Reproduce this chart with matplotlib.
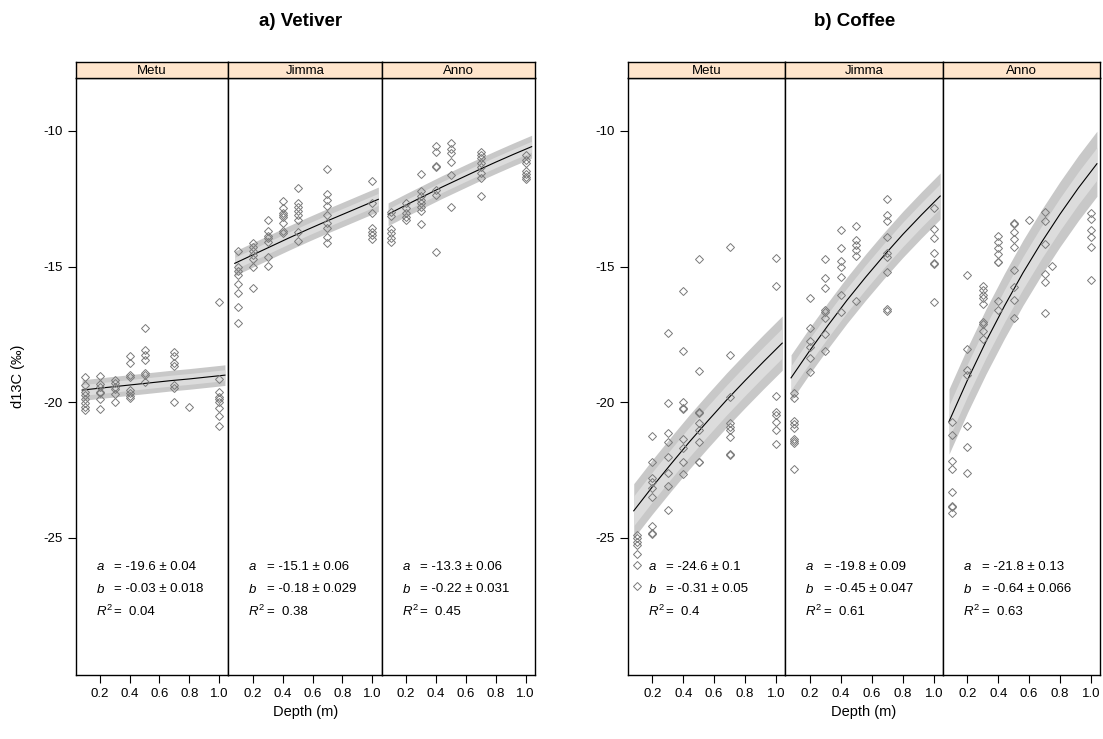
import matplotlib
matplotlib.use("Agg")
import matplotlib.pyplot as plt
import numpy as np

plt.rcParams['font.family'] = ['Liberation Sans', 'DejaVu Sans']
plt.rcParams['mathtext.fontset'] = 'custom'
plt.rcParams['mathtext.rm'] = 'Liberation Sans'
plt.rcParams['mathtext.it'] = 'Liberation Sans:italic'

sites = ["Metu", "Jimma", "Anno"]
tick_depths = [0.2, 0.4, 0.6, 0.8, 1.0]
tick_labels = ["0.2", "0.4", "0.6", "0.8", "1.0"]
y_ticks = [-10, -15, -20, -25]

# observed d13C, grouped by depth (m)
vet_metu = {0.1: [-19.08, -19.36, -19.61, -19.73, -19.89, -20.04, -20.16, -20.28],
            0.2: [-19.02, -19.33, -19.45, -19.61, -19.67, -19.88, -20.24],
            0.3: [-19.18, -19.30, -19.43, -19.52, -19.70, -20.00],
            0.4: [-18.28, -18.56, -18.99, -19.06, -19.55, -19.67, -19.77, -19.86],
            0.5: [-17.27, -18.07, -18.25, -18.44, -18.93, -18.99, -19.24],
            0.7: [-18.13, -18.29, -18.56, -18.66, -19.36, -19.48, -20.00],
            0.8: [-20.19],
            1.0: [-16.29, -19.15, -19.61, -19.79, -19.89, -19.98, -20.22, -20.51, -20.86]}
vet_jimma = {0.1: [-14.41, -15.00, -15.15, -15.31, -15.63, -15.98, -16.50, -17.08],
             0.2: [-14.12, -14.26, -14.41, -14.57, -14.72, -15.01, -15.79],
             0.3: [-13.29, -13.67, -13.86, -13.96, -14.08, -14.66, -14.96],
             0.4: [-12.58, -12.83, -13.01, -13.10, -13.16, -13.39, -13.67, -13.77],
             0.5: [-12.09, -12.64, -12.79, -12.94, -13.10, -13.28, -13.72, -14.05],
             0.7: [-11.39, -12.32, -12.54, -12.76, -13.10, -13.38, -13.59, -13.92, -14.12],
             1.0: [-11.85, -12.64, -13.03, -13.56, -13.71, -13.83, -13.98]}
vet_anno = {0.1: [-12.97, -13.13, -13.62, -13.77, -13.93, -14.08],
            0.2: [-12.67, -12.85, -13.03, -13.16, -13.28],
            0.3: [-11.58, -12.20, -12.40, -12.54, -12.67, -12.79, -12.94, -13.42],
            0.4: [-10.54, -10.76, -11.29, -11.34, -12.17, -12.36, -14.46],
            0.5: [-10.45, -10.68, -10.82, -11.15, -11.62, -12.79],
            0.7: [-10.76, -10.88, -11.01, -11.19, -11.34, -11.56, -11.74, -12.40],
            1.0: [-10.88, -11.07, -11.19, -11.47, -11.58, -11.68, -11.77]}
cof_metu = {0.1: [-24.89, -25.01, -25.14, -25.26, -25.60, -26.00, -26.77],
            0.2: [-21.24, -22.19, -22.80, -22.95, -23.17, -23.48, -24.56, -24.81, -24.84],
            0.3: [-17.43, -20.04, -21.12, -21.45, -22.03, -22.59, -23.09, -23.97],
            0.4: [-15.90, -18.10, -19.98, -20.22, -20.26, -21.35, -21.70, -22.19, -22.65],
            0.5: [-14.71, -18.83, -20.34, -20.38, -20.77, -21.02, -21.47, -22.19, -22.21],
            0.7: [-14.28, -18.26, -19.79, -20.77, -20.90, -21.02, -21.27, -21.91, -21.94],
            1.0: [-14.67, -15.71, -19.76, -20.34, -20.47, -20.74, -21.02, -21.55]}
cof_jimma = {0.1: [-19.67, -19.83, -20.69, -20.81, -20.96, -21.35, -21.42, -21.51, -22.46],
             0.2: [-16.17, -17.27, -17.74, -17.95, -18.38, -18.90],
             0.3: [-14.71, -15.41, -15.79, -16.60, -16.68, -16.90, -17.48, -18.10],
             0.4: [-13.65, -14.31, -14.79, -15.00, -15.37, -16.05, -16.68],
             0.5: [-13.49, -14.02, -14.20, -14.39, -14.61, -16.25],
             0.7: [-12.52, -13.11, -13.31, -13.92, -14.49, -14.63, -15.20, -16.57, -16.62],
             1.0: [-12.85, -13.61, -13.96, -14.51, -14.85, -14.90, -16.29]}
cof_anno = {0.1: [-20.74, -21.20, -22.16, -22.46, -23.30, -23.82, -23.85, -24.09],
            0.2: [-15.32, -18.05, -18.81, -18.99, -20.86, -21.64, -22.61],
            0.3: [-15.70, -15.86, -16.04, -16.17, -16.38, -17.05, -17.11, -17.36, -17.67],
            0.4: [-13.87, -14.08, -14.32, -14.55, -14.82, -14.84, -16.25, -16.60],
            0.5: [-13.38, -13.43, -13.72, -13.99, -14.26, -15.12, -15.74, -16.23, -16.90],
            0.6: [-13.29],
            0.7: [-12.97, -13.31, -14.18, -15.27, -15.55, -16.72],
            0.75: [-14.96],
            1.0: [-13.01, -13.26, -13.65, -13.92, -14.26, -15.51]}

# fitted curve
fit_depth = [0.08, 0.2, 0.32, 0.44, 0.56, 0.68, 0.8, 0.92, 1.04]
fit_vet = [[-19.55, -19.48, -19.41, -19.34, -19.27, -19.20, -19.14, -19.07, -19.00],
           [-14.88, -14.57, -14.26, -13.95, -13.65, -13.36, -13.08, -12.80, -12.52],
           [-13.07, -12.73, -12.40, -12.07, -11.76, -11.45, -11.15, -10.86, -10.58]]
fit_cof = [[-24.00, -23.12, -22.28, -21.46, -20.68, -19.92, -19.20, -18.50, -17.82],
           [-19.10, -18.10, -17.15, -16.24, -15.39, -14.58, -13.81, -13.09, -12.40],
           [-20.71, -19.18, -17.76, -16.45, -15.23, -14.11, -13.07, -12.10, -11.21]]
# half widths of the outer and inner grey bands
band_vet = [(0.38, 0.2), (0.45, 0.22), (0.42, 0.2)]
band_cof = [(1.0, 0.55), (0.85, 0.45), (1.2, 0.6)]

a_vet = ["-19.6 \u00b1 0.04", "-15.1 \u00b1 0.06", "-13.3 \u00b1 0.06"]
b_vet = ["-0.03 \u00b1 0.018", "-0.18 \u00b1 0.029", "-0.22 \u00b1 0.031"]
r2_vet = ["0.04", "0.38", "0.45"]
a_cof = ["-24.6 \u00b1 0.1", "-19.8 \u00b1 0.09", "-21.8 \u00b1 0.13"]
b_cof = ["-0.31 \u00b1 0.05", "-0.45 \u00b1 0.047", "-0.64 \u00b1 0.066"]
r2_cof = ["0.4", "0.61", "0.63"]

W, H = 1103, 739
fig = plt.figure(figsize=(W / 100, H / 100), dpi=100)


def px_axes(x0, y_top, w, h):
    return fig.add_axes([x0 / W, 1 - (y_top + h) / H, w / W, h / H])


def draw_group(edges, data, fits, bands, a_t, b_t, r_t, xlim, title):
    for i, site in enumerate(sites):
        x0, x1 = edges[i], edges[i + 1]
        ax = px_axes(x0, 78, x1 - x0, 597)
        lo = np.array(fits[i]) - bands[i][0]
        hi = np.array(fits[i]) + bands[i][0]
        ax.fill_between(fit_depth, lo, hi, color='#c8c8c8', lw=0)
        ax.fill_between(fit_depth, np.array(fits[i]) - bands[i][1],
                        np.array(fits[i]) + bands[i][1], color='#dcdcdc', lw=0)
        ax.plot(fit_depth, fits[i], color='black', lw=0.8)
        for d, vals in data[i].items():
            ax.plot([d] * len(vals), vals, ls='none', marker='D', ms=3.6,
                    mfc='none', mec='#7a7a7a', mew=0.7)
        ax.set_xlim(*xlim)
        ax.set_ylim(-30.05, -8.05)
        ax.set_xticks(tick_depths)
        ax.set_xticklabels(tick_labels)
        ax.tick_params(axis='x', direction='out', length=5.5, width=0.8, labelsize=9.5, pad=4)
        if i == 0:
            ax.set_yticks(y_ticks)
            ax.set_yticklabels([str(v) for v in y_ticks])
            ax.tick_params(axis='y', direction='out', length=5.5, width=0.8, labelsize=9.5, pad=4)
        else:
            ax.set_yticks([])
        for sp in ax.spines.values():
            sp.set_linewidth(1.0)
        fx = 20 / (x1 - x0)
        fe = 38.5 / (x1 - x0)
        ax.text(fx, 0.181, "$a$", transform=ax.transAxes, fontsize=9.5, va='center')
        ax.text(fe, 0.181, "= " + a_t[i], transform=ax.transAxes, fontsize=9.5, va='center')
        ax.text(fx, 0.144, "$b$", transform=ax.transAxes, fontsize=9.5, va='center')
        ax.text(fe, 0.144, "= " + b_t[i], transform=ax.transAxes, fontsize=9.5, va='center')
        ax.text(fx, 0.106, "$R^2$", transform=ax.transAxes, fontsize=9.5, va='center')
        ax.text(fe, 0.106, "=  " + r_t[i], transform=ax.transAxes, fontsize=9.5, va='center')

        st = px_axes(x0, 62, x1 - x0, 16)
        st.set_facecolor('#ffe5cc')
        st.set_xticks([])
        st.set_yticks([])
        for sp in st.spines.values():
            sp.set_linewidth(1.0)
        st.text(0.5, 0.45, site, ha='center', va='center', fontsize=9.5, transform=st.transAxes)

    cx = (edges[0] + edges[-1]) / 2
    fig.text(cx / W, 1 - 712 / H, "Depth (m)", ha='center', va='center', fontsize=10.5)
    fig.text(title[1] / W, 1 - 22 / H, title[0], ha='center', va='center',
             fontsize=13.5, fontweight='bold')


draw_group([75.7, 228.3, 381.7, 535], [vet_metu, vet_jimma, vet_anno], fit_vet, band_vet,
           a_vet, b_vet, r2_vet, (0.037, 1.0625), ("a) Vetiver", 301))
draw_group([628, 785.3, 943.3, 1100], [cof_metu, cof_jimma, cof_anno], fit_cof, band_cof,
           a_cof, b_cof, r2_cof, (0.043, 1.06), ("b) Coffee", 855))

fig.text(18 / W, 1 - 376 / H, "d13C (\u2030)", rotation=90, ha='center', va='center', fontsize=10.5)

fig.savefig("out.png", dpi=100)
